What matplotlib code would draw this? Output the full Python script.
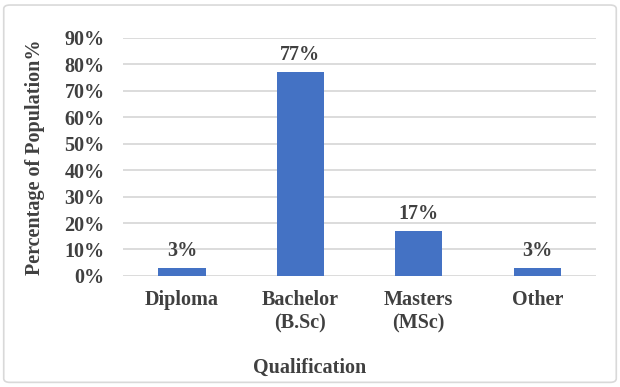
import matplotlib.pyplot as plt
from matplotlib.patches import FancyBboxPatch

categories = ['Diploma', 'Bachelor\n(B.Sc)', 'Masters\n(MSc)', 'Other']
values = [3, 77, 17, 3]
y_ticks = [0, 10, 20, 30, 40, 50, 60, 70, 80, 90]

text_color = '#404040'
bar_color = '#4472C4'
fs = 14.5
plt.rcParams['font.family'] = ['Liberation Serif', 'DejaVu Serif']
plt.rcParams['font.weight'] = 'bold'

fig = plt.figure(figsize=(6.2, 3.87), dpi=100)
ax = fig.add_axes([0.198, 0.287, 0.764, 0.615])

x = range(len(categories))
bars = ax.bar(x, values, width=0.4, color=bar_color, zorder=3)
for b, v in zip(bars, values):
    ax.text(b.get_x() + b.get_width() / 2, v + 2.8, f'{v}%', ha='center', va='bottom',
            fontsize=fs, fontweight='bold', color=text_color)

ax.set_xlim(-0.5, len(categories) - 0.5)
ax.set_ylim(0, 90)
ax.set_yticks(y_ticks)
ax.set_yticklabels([f'{t}%' for t in y_ticks])
ax.set_xticks(list(x))
ax.set_xticklabels(categories, linespacing=1.25)
ax.tick_params(axis='both', length=0, labelsize=fs, colors=text_color)
ax.tick_params(axis='y', pad=13)
ax.tick_params(axis='x', pad=10)
for lbl in ax.get_xticklabels() + ax.get_yticklabels():
    lbl.set_fontweight('bold')

ax.yaxis.grid(True, color='#d9d9d9', linewidth=1.3, zorder=0)
for s in ax.spines.values():
    s.set_visible(False)

ax.set_ylabel('Percentage of Population%', fontsize=fs, fontweight='bold', color=text_color)
ax.yaxis.set_label_coords(-0.165, 0.5)
fig.text(0.5, 0.05, 'Qualification', ha='center', va='center', fontsize=fs,
         fontweight='bold', color=text_color)

border = FancyBboxPatch((0.006, 0.012), 0.988, 0.975, boxstyle='round,pad=0,rounding_size=0.01',
                        transform=fig.transFigure, fill=False, edgecolor='#d9d9d9', linewidth=1.2)
fig.patches.append(border)

fig.savefig('out.png', dpi=100)
plt.close(fig)
